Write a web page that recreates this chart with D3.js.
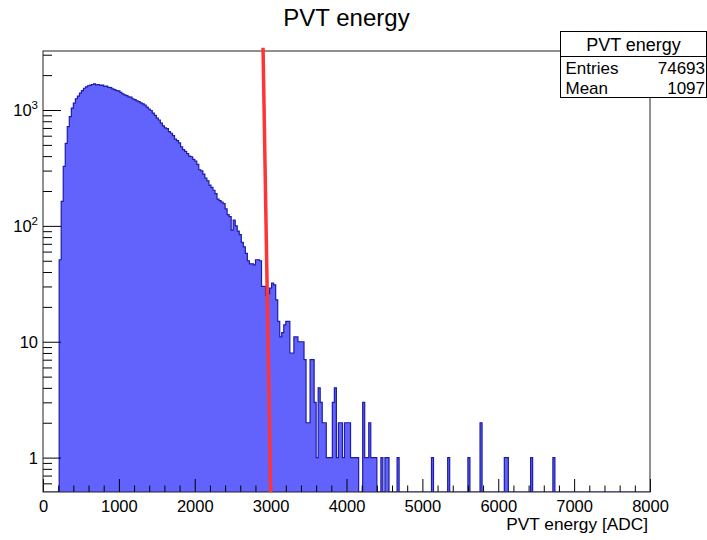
<!DOCTYPE html>
<html>
<head>
<meta charset="utf-8">
<script src="https://cdn.jsdelivr.net/npm/d3@7"></script>
<style>
  html, body { margin: 0; padding: 0; background: #fff; }
  svg { display: block; }
  text { font-family: "Liberation Sans", Arial, Helvetica, sans-serif; fill: #000; }
</style>
</head>
<body>
<svg id="chart" width="707" height="540"></svg>
<script>
// ---------------- data ----------------
const chartTitle = "PVT energy";
const xAxisTitle = "PVT energy [ADC]";
const histRange = [0, 8000];          // ADC
const binCount = 300;                 // bins of 26.67 ADC
const counts = [
  0,0,0,0,0,0,0,0,
  51,163,326,516,718,877,1039,1145,1250,1320,
  1400,1470,1540,1585,1620,1640,1660,1680,1650,1660,
  1630,1640,1600,1610,1570,1560,1520,1500,1470,1460,
  1420,1380,1350,1330,1300,1290,1250,1230,1200,1180,
  1150,1130,1100,1060,1020,990,940,900,850,820,
  770,730,700,690,650,630,600,560,545,520,
  480,455,440,420,400,395,375,362,340,305,
  298,280,258,245,225,215,203,190,170,165,
  160,156,140,125,120,92,112,100,90,84,
  72,66,58,50,47,47,46,51,51,50,
  30,30,25,26,29,32,31,23,15,11,
  12,14,15,15,8,8,11,11,10,10,
  10,7,2,2,7,7,3,1,4,3,
  2,2,1,1,1,3,4,1,2,2,
  1,2,2,2,1,1,1,1,0,0,
  3,1,1,2,1,1,1,0,0,1,
  0,1,1,0,0,0,0,1,0,0,
  0,0,0,0,0,0,0,0,0,0,0,0,0,0,
  1,
  0,0,0,0,0,0,0,
  1,
  0,0,0,0,0,0,0,0,0,
  1,
  0,0,0,0,0,
  2,
  0,0,0,0,0,0,0,0,0,0,0,
  1,1,
  0,0,0,0,0,0,0,0,0,0,0,
  1,
  0,0,0,0,0,0,0,0,0,0,
  1
];
while (counts.length < binCount) counts.push(0);

const xTickValues = [0, 1000, 2000, 3000, 4000, 5000, 6000, 7000, 8000];
const xMinorStep = 200;
const yDomain = [0.505, 3230];
const yMajorTicks = [1, 10, 100, 1000];
const yMajorLabels = [["1", ""], ["10", ""], ["10", "2"], ["10", "3"]];
const cutLine = [[2900, 3450], [3000, 0.505]];   // red selection line
const statsTitle = "PVT energy";
const statsRows = [["Entries", "74693"], ["Mean", "1097"]];

// ---------------- layout ----------------
const W = 707, H = 540;
const frame = { left: 43, right: 650, top: 51, bottom: 492 };
const svg = d3.select("#chart");

const x = d3.scaleLinear().domain(histRange).range([frame.left, frame.right]);
const y = d3.scaleLog().domain(yDomain).range([frame.bottom, frame.top]);

svg.append("rect").attr("width", W).attr("height", H).attr("fill", "#fff");

svg.append("clipPath").attr("id", "clipFrame")
  .append("rect")
  .attr("x", frame.left).attr("y", frame.top)
  .attr("width", frame.right - frame.left).attr("height", frame.bottom - frame.top);

// ---------------- histogram ----------------
const bw = (histRange[1] - histRange[0]) / binCount;
const pts = [[histRange[0], yDomain[0]]];
counts.forEach((v, k) => {
  const lo = histRange[0] + k * bw, hi = lo + bw;
  const yy = v > 0 ? v : yDomain[0];
  pts.push([lo, yy]);
  pts.push([hi, yy]);
});
pts.push([histRange[1], yDomain[0]]);

const line = d3.line().x(d => x(d[0])).y(d => y(d[1]));

const g = svg.append("g").attr("clip-path", "url(#clipFrame)");
g.append("path").attr("d", line(pts) + "Z")
  .attr("fill", "#6262fd").attr("stroke", "none");
g.append("path").attr("d", line(pts))
  .attr("fill", "none").attr("stroke", "#1c1ca8").attr("stroke-width", 1.2);

// ---------------- axes ----------------
const axisColor = "#000";
const xMajorAxis = d3.axisBottom(x).tickValues(xTickValues)
  .tickSizeInner(-13).tickSizeOuter(0).tickPadding(8)
  .tickFormat(d3.format("d"));
const gx = svg.append("g").attr("transform", `translate(0,${frame.bottom})`).call(xMajorAxis);
gx.select(".domain").remove();
gx.selectAll("line").attr("stroke", axisColor);
gx.selectAll("text").attr("font-size", 16.5).attr("font-family", "Liberation Sans, Arial, sans-serif").attr("fill", "#000");

const xMinor = d3.range(histRange[0], histRange[1] + 1, xMinorStep).filter(v => v % 1000 !== 0);
const gxm = svg.append("g").attr("transform", `translate(0,${frame.bottom})`)
  .call(d3.axisBottom(x).tickValues(xMinor).tickSizeInner(-6.5).tickSizeOuter(0).tickFormat(""));
gxm.select(".domain").remove();
gxm.selectAll("line").attr("stroke", axisColor);

const gy = svg.append("g").attr("transform", `translate(${frame.left},0)`)
  .call(d3.axisLeft(y).tickValues(yMajorTicks).tickSizeInner(-18).tickSizeOuter(0).tickFormat(""));
gy.select(".domain").remove();
gy.selectAll("line").attr("stroke", axisColor);

const yMinor = [];
[0.1, 1, 10, 100, 1000].forEach(dec => {
  for (let m = 2; m <= 9; m++) {
    const v = dec * m;
    if (v >= yDomain[0] && v <= yDomain[1]) yMinor.push(v);
  }
});
const gym = svg.append("g").attr("transform", `translate(${frame.left},0)`)
  .call(d3.axisLeft(y).tickValues(yMinor).tickSizeInner(-9).tickSizeOuter(0).tickFormat(""));
gym.select(".domain").remove();
gym.selectAll("line").attr("stroke", axisColor);

const ylab = svg.append("g");
yMajorTicks.forEach((v, i) => {
  const [base, sup] = yMajorLabels[i];
  const t = ylab.append("text")
    .attr("x", frame.left - 5)
    .attr("y", y(v) + 6)
    .attr("text-anchor", "end")
    .attr("font-size", 16.5);
  t.append("tspan").text(base);
  if (sup) {
    t.append("tspan").attr("font-size", 11.5).attr("dy", -7).text(sup);
  }
});

svg.append("rect")
  .attr("x", frame.left).attr("y", frame.top)
  .attr("width", frame.right - frame.left).attr("height", frame.bottom - frame.top)
  .attr("fill", "none").attr("stroke", "#222").attr("stroke-width", 1);

svg.append("path")
  .attr("d", d3.line().x(d => x(d[0])).y(d => y(d[1]))(cutLine))
  .attr("stroke", "#ff3535").attr("stroke-width", 3.5).attr("fill", "none");

svg.append("text").attr("x", (frame.left + frame.right) / 2).attr("y", 26)
  .attr("text-anchor", "middle").attr("font-size", 24).text(chartTitle);
svg.append("text").attr("x", frame.right - 2).attr("y", 530)
  .attr("text-anchor", "end").attr("font-size", 17.3).text(xAxisTitle);

// stats box
const sb = { x: 560.5, y: 31.5, w: 146, rowH: [25, 20.5, 20.5] };
const sbH = sb.rowH.reduce((a, b) => a + b, 0);
const sg = svg.append("g");
sg.append("rect").attr("x", sb.x).attr("y", sb.y).attr("width", sb.w).attr("height", sbH)
  .attr("fill", "#fff").attr("stroke", "#000").attr("stroke-width", 1);
sg.append("line").attr("x1", sb.x).attr("x2", sb.x + sb.w)
  .attr("y1", sb.y + sb.rowH[0]).attr("y2", sb.y + sb.rowH[0])
  .attr("stroke", "#000");
sg.append("text").attr("x", sb.x + sb.w / 2).attr("y", sb.y + 19)
  .attr("text-anchor", "middle").attr("font-size", 18).text(statsTitle);
statsRows.forEach((r, i) => {
  const by = sb.y + sb.rowH[0] + 17 + i * 20;
  sg.append("text").attr("x", sb.x + 5).attr("y", by).attr("font-size", 17).text(r[0]);
  sg.append("text").attr("x", sb.x + sb.w - 1.5).attr("y", by).attr("text-anchor", "end")
    .attr("font-size", 17).text(r[1]);
});
</script>
</body>
</html>
